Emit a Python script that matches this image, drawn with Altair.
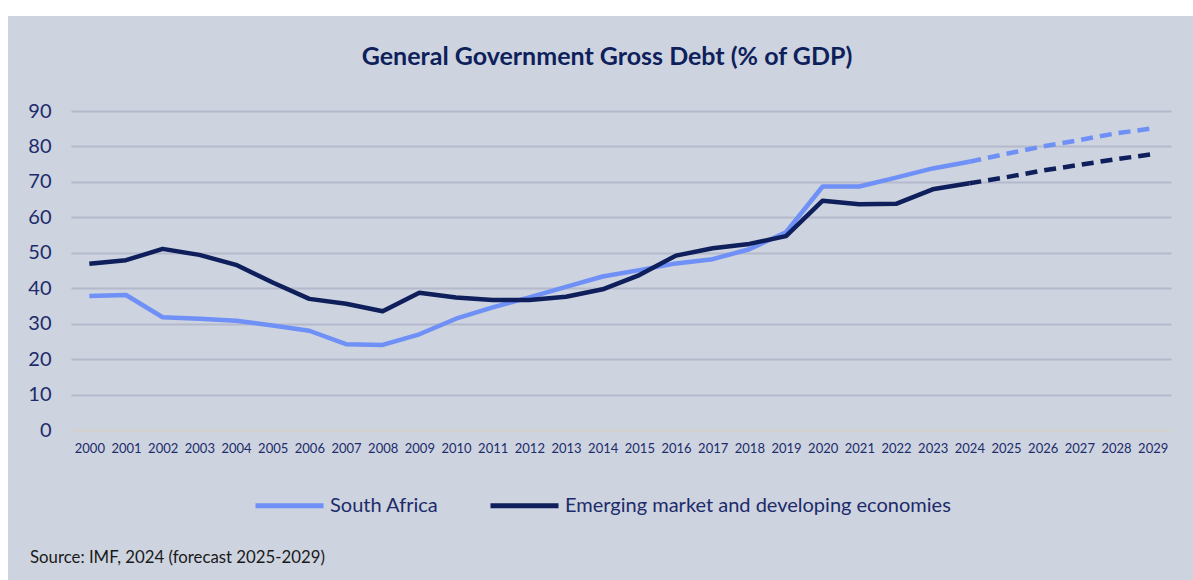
import altair as alt
import pandas as pd

years = list(range(2000, 2030))
south_africa = [37.8, 38.1, 31.8, 31.4, 30.8, 29.5, 28.0, 24.2, 24.0, 27.0,
                31.4, 34.6, 37.4, 40.4, 43.3, 45.1, 47.0, 48.2, 51.0, 55.8,
                68.7, 68.7, 71.2, 73.8, 75.7, 77.9, 80.0, 81.8, 83.7, 85.1]
emde = [46.9, 47.9, 51.1, 49.4, 46.6, 41.6, 37.0, 35.6, 33.5, 38.7,
        37.4, 36.7, 36.7, 37.6, 39.7, 43.7, 49.2, 51.3, 52.5, 54.7,
        64.7, 63.7, 63.8, 67.9, 69.6, 71.3, 73.2, 74.8, 76.4, 77.8]
series_names = ["South Africa", "Emerging market and developing economies"]
last_actual = 2024

title_text = "General Government Gross Debt (% of GDP)"
source_text = "Source: IMF, 2024 (forecast 2025-2029)"

rows = []
for name, vals in zip(series_names, [south_africa, emde]):
    for y, v in zip(years, vals):
        if y <= last_actual:
            rows.append({"year": str(y), "value": v, "series": name, "period": "actual"})
        if y >= last_actual:
            rows.append({"year": str(y), "value": v, "series": name, "period": "forecast"})
df = pd.DataFrame(rows)

NAVY = "#0E1F5B"
LIGHT = "#6F90F6"
TEXT = "#1C2B6A"
PANEL = "#CDD3DF"
FONT = "Lato"

color_scale = alt.Scale(domain=series_names, range=[LIGHT, NAVY])
x_enc = alt.X("year:O", title=None,
              axis=alt.Axis(labelAngle=0, ticks=False, domain=False, labelFontSize=13,
                            labelColor=TEXT, labelFont=FONT, labelPadding=12))
y_enc = alt.Y("value:Q", title=None,
              scale=alt.Scale(domain=[0, 90], nice=False),
              axis=alt.Axis(values=list(range(0, 91, 10)), ticks=False, domain=False,
                            labelFontSize=20, labelColor=TEXT, labelFont=FONT,
                            labelPadding=20,
                            gridColor={"condition": {"test": "datum.value === 0", "value": "#D5D2CC"},
                                       "value": "#B4B9CB"},
                            gridWidth=2))

actual = alt.Chart(df[df.period == "actual"]).mark_line(strokeWidth=4.5, strokeJoin="round").encode(
    x=x_enc, y=y_enc,
    color=alt.Color("series:N", scale=color_scale, sort=series_names,
                    legend=alt.Legend(title=None, orient="none", legendX=182, legendY=358,
                                      direction="horizontal", symbolType="stroke",
                                      symbolSize=4624, symbolStrokeWidth=5,
                                      labelFontSize=20, labelFont=FONT, labelColor=TEXT,
                                      labelOffset=4, columnPadding=41, labelLimit=0)),
)
forecast = alt.Chart(df[df.period == "forecast"]).mark_line(strokeWidth=4.5, strokeDash=[12, 7]).encode(
    x=x_enc, y=y_enc,
    color=alt.Color("series:N", scale=color_scale, legend=None),
)

one = pd.DataFrame({"k": [0]})
white_top = alt.Chart(one).mark_rect(color="white").encode(
    x=alt.value(-71), x2=alt.value(1122), y=alt.value(-111), y2=alt.value(-95))
white_left = alt.Chart(one).mark_rect(color="white").encode(
    x=alt.value(-71), x2=alt.value(-63), y=alt.value(-111), y2=alt.value(469))
title = alt.Chart(pd.DataFrame({"t": [title_text]})).mark_text(
    font=FONT, fontSize=25, fontWeight="bold", color=NAVY, align="center", baseline="middle"
).encode(text="t:N", x=alt.value(536), y=alt.value(-54))
source = alt.Chart(pd.DataFrame({"t": [source_text]})).mark_text(
    font=FONT, fontSize=16.8, color="#1A1A1A", align="left", baseline="middle"
).encode(text="t:N", x=alt.value(-41), y=alt.value(447))

chart = alt.layer(white_top, white_left, actual, forecast, title, source).properties(
    width=1100, height=319,
    autosize=alt.AutoSizeParams(type="none"),
    padding={"left": 71, "top": 111, "right": 22, "bottom": 150},
    background=PANEL,
).configure_view(stroke=None)

chart.save("out.html", embed_options={"renderer": "svg", "actions": False})
